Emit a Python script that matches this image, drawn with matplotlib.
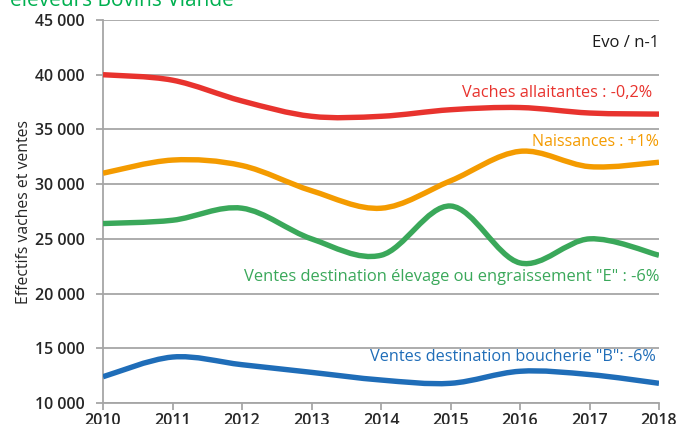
import matplotlib.pyplot as plt
from matplotlib.path import Path
from matplotlib.patches import PathPatch
import numpy as np

years = [2010, 2011, 2012, 2013, 2014, 2015, 2016, 2017, 2018]
vaches = [40000, 39500, 37600, 36200, 36200, 36800, 37000, 36500, 36400]
naissances = [31000, 32200, 31700, 29400, 27800, 30300, 33000, 31600, 32000]
ventes_e = [26400, 26700, 27800, 25000, 23500, 28000, 22800, 25000, 23500]
ventes_b = [12400, 14200, 13500, 12800, 12100, 11800, 12900, 12600, 11800]

labels = ['Vaches allaitantes : -0,2%', 'Naissances : +1%',
          'Ventes destination élevage ou engraissement "E" : -6%',
          'Ventes destination boucherie "B": -6%']
colors = ['#e8332e', '#f49b00', '#3aa85a', '#1f6db8']


def smooth_path(x, y):
    # Excel-like smoothed line: Catmull-Rom segments as cubic Bezier curves
    p = np.column_stack([x, y]).astype(float)
    ext = np.vstack([p[0], p, p[-1]])
    verts = [p[0]]
    codes = [Path.MOVETO]
    for i in range(len(p) - 1):
        p0, p1, p2, p3 = ext[i], ext[i + 1], ext[i + 2], ext[i + 3]
        c1 = p1 + (p2 - p0) / 6
        c2 = p2 - (p3 - p1) / 6
        verts += [c1, c2, p2]
        codes += [Path.CURVE4] * 3
    return Path(verts, codes)


plt.rcParams['font.family'] = ['Open Sans', 'DejaVu Sans']

fig = plt.figure(figsize=(6.8, 4.24), dpi=100)
ax = fig.add_axes([103 / 680, 1 - 403 / 424, 556 / 680, 383 / 424])

for series, c in zip([vaches, naissances, ventes_e, ventes_b], colors):
    ax.add_patch(PathPatch(smooth_path(years, series), facecolor='none',
                           edgecolor=c, lw=3.9, capstyle='butt', zorder=3))

ax.set_xlim(2010, 2018)
ax.set_ylim(10000, 45000)
ax.set_yticks(range(10000, 45001, 5000))
ax.set_yticklabels([f'{v // 1000} 000' for v in range(10000, 45001, 5000)])
ax.set_xticks(years)
ax.grid(axis='y', color='#a6a6a6', lw=1.3, zorder=1)
for s in ['top', 'right']:
    ax.spines[s].set_visible(False)
for s in ['left', 'bottom']:
    ax.spines[s].set_color('#a6a6a6')
    ax.spines[s].set_linewidth(1.3)
ax.tick_params(axis='both', color='#a6a6a6', width=1.3, length=5,
               labelsize=11.5, labelcolor='#262626')
ax.tick_params(axis='y', pad=8)
ax.tick_params(axis='x', pad=2)
for t in ax.get_xticklabels() + ax.get_yticklabels():
    t.set_fontweight('semibold')

ax.set_ylabel('Effectifs vaches et ventes', fontsize=11.3, color='#262626', labelpad=2)

ax.text(2018, 42900, 'Evo / n-1', ha='right', va='center', fontsize=12, color='#1a1a1a')
ax.text(2017.9, 38300, labels[0], ha='right', va='center', fontsize=11.7, color=colors[0])
ax.text(2018, 33850, labels[1], ha='right', va='center', fontsize=11.5, color=colors[1])
ax.text(2018, 21500, labels[2], ha='right', va='center', fontsize=11.9, color=colors[2])
ax.text(2017.95, 14230, labels[3], ha='right', va='center', fontsize=11.7, color=colors[3])

fig.text(10 / 680, 1 - 6 / 424, 'éleveurs Bovins Viande', fontsize=15,
         color='#00b050', ha='left', va='baseline')

fig.savefig('out.png', dpi=100)
